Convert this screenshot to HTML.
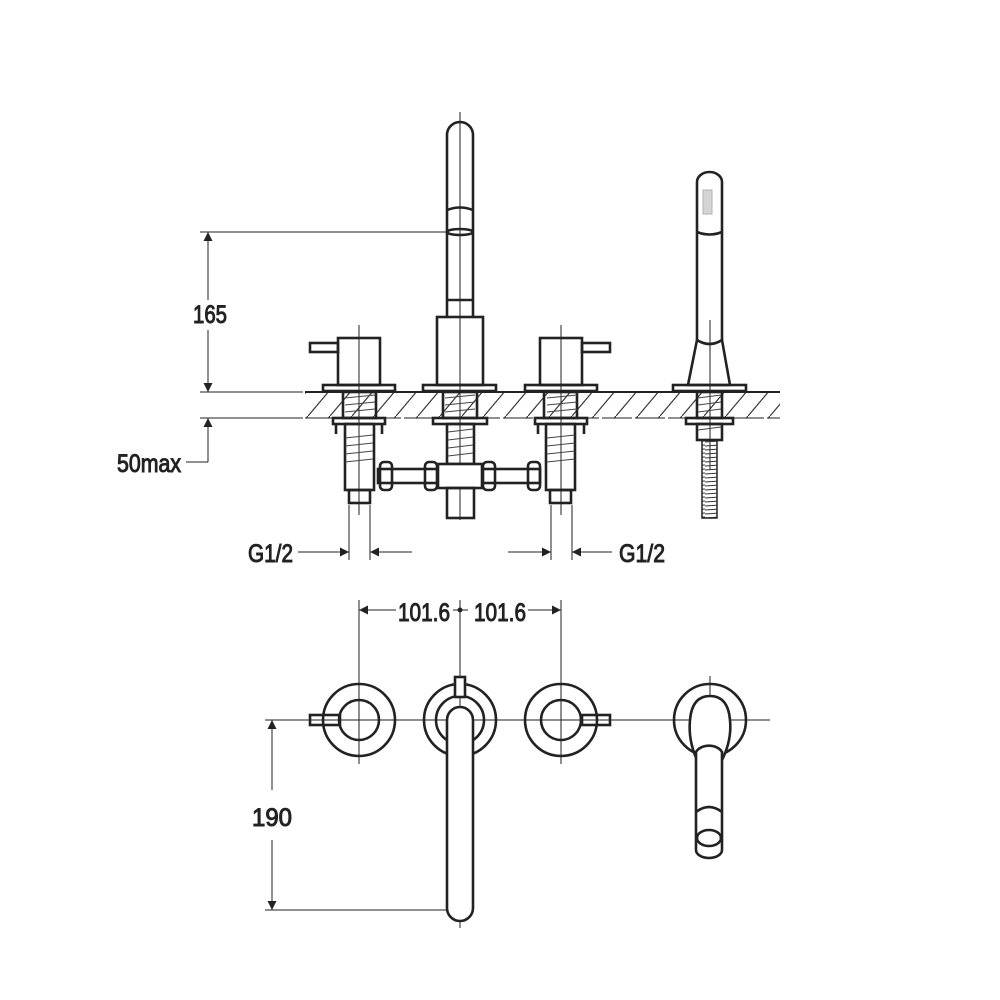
<!DOCTYPE html>
<html><head><style>html,body{margin:0;padding:0;background:#fff}svg{display:block}text{font-family:"Liberation Sans",sans-serif;font-size:25px;fill:#222}</style></head>
<body>
<svg width="1000" height="1000" viewBox="0 0 1000 1000" xmlns="http://www.w3.org/2000/svg">
<defs>
<pattern id="h" width="22" height="26" patternUnits="userSpaceOnUse">
<line x1="0" y1="26" x2="22" y2="0" stroke="#333" stroke-width="1.2"/>
</pattern>
<pattern id="hs" width="15" height="4" patternUnits="userSpaceOnUse">
<line x1="0" y1="2" x2="15" y2="1" stroke="#333" stroke-width="1"/>
</pattern>
<marker id="a" viewBox="0 0 10 10" refX="10" refY="5" markerWidth="16" markerHeight="9" markerUnits="userSpaceOnUse" orient="auto"><path d="M0,0L10,5L0,10z" fill="#222"/></marker>
</defs>
<g fill="none" stroke="#222">
<rect x="305" y="392" width="475" height="26" fill="url(#h)" stroke="none"/>
<line x1="305" y1="392" x2="780" y2="392" stroke-width="2"/>
<line x1="305" y1="418" x2="780" y2="418" stroke-width="1" stroke-dasharray="30 3"/>
<g stroke-width="1">
<line x1="200" y1="232" x2="447" y2="232"/>
<line x1="200" y1="392" x2="303" y2="392"/>
<line x1="200" y1="418" x2="303" y2="418"/>
<line x1="208" y1="300" x2="208" y2="232" marker-end="url(#a)"/>
<line x1="208" y1="330" x2="208" y2="392" marker-end="url(#a)"/>
<line x1="208" y1="462" x2="208" y2="418" marker-end="url(#a)"/>
<line x1="186" y1="462" x2="208" y2="462"/>
<line x1="349" y1="505" x2="349" y2="560"/><line x1="370" y1="505" x2="370" y2="560"/>
<line x1="298" y1="552" x2="349" y2="552" marker-end="url(#a)"/>
<line x1="412" y1="552" x2="370" y2="552" marker-end="url(#a)"/>
<line x1="551" y1="505" x2="551" y2="560"/><line x1="572" y1="505" x2="572" y2="560"/>
<line x1="508" y1="552" x2="551" y2="552" marker-end="url(#a)"/>
<line x1="612" y1="552" x2="572" y2="552" marker-end="url(#a)"/>
<line x1="359" y1="600" x2="359" y2="690"/><line x1="561" y1="600" x2="561" y2="690"/>
<line x1="460" y1="600" x2="460" y2="680"/>
<line x1="396" y1="610" x2="359" y2="610" marker-end="url(#a)"/>
<line x1="528" y1="610" x2="561" y2="610" marker-end="url(#a)"/>
<line x1="453" y1="610" x2="468" y2="610"/>
<line x1="265" y1="720" x2="770" y2="720"/>
<line x1="265" y1="910" x2="447" y2="910"/>
<line x1="272" y1="790" x2="272" y2="720" marker-end="url(#a)"/>
<line x1="272" y1="840" x2="272" y2="910" marker-end="url(#a)"/>
<line x1="359" y1="325" x2="359" y2="515"/><line x1="460" y1="112" x2="460" y2="520"/>
<line x1="561" y1="325" x2="561" y2="515"/><line x1="710" y1="320" x2="710" y2="470"/>
<line x1="359" y1="676" x2="359" y2="764"/><line x1="460" y1="664" x2="460" y2="928"/>
<line x1="561" y1="676" x2="561" y2="764"/><line x1="710" y1="676" x2="710" y2="760"/>
</g>
<g stroke-width="2.6">
<path d="M447,317V135a13,13 0 0 1 26,0V317"/>
<path d="M447,210q13,-5 26,0"/>
<ellipse cx="460" cy="232" rx="13" ry="3"/>
<line x1="447" y1="300" x2="473" y2="300"/>
<rect x="437" y="317" width="46" height="68"/>
<rect x="423" y="385" width="73" height="6"/>
<rect x="443" y="392" width="34" height="26"/>
<rect x="433" y="418" width="54" height="6"/>
<rect x="447" y="424" width="27" height="40"/>
<g id="v">
<rect x="338" y="338" width="42" height="47"/>
<rect x="310" y="343" width="28" height="9"/>
<rect x="323" y="385" width="72" height="6"/>
<rect x="343" y="392" width="33" height="26"/>
<rect x="333" y="418" width="52" height="6"/>
<path d="M336,424v10M382,424v10"/>
<rect x="345" y="424" width="29" height="66"/>
<rect x="349" y="490" width="21" height="13"/>
</g>
<use href="#v" transform="translate(920,0) scale(-1,1)"/>
<rect x="378" y="469" width="162" height="14"/>
<rect x="380" y="462" width="12" height="28" rx="4"/>
<rect x="425" y="462" width="12" height="28" rx="4"/>
<rect x="483" y="462" width="12" height="28" rx="4"/>
<rect x="528" y="462" width="12" height="28" rx="4"/>
<rect x="438" y="464" width="44" height="24" fill="#fff"/>
<rect x="447" y="488" width="27" height="30"/>
<path d="M697,340V182a12.5,10 0 0 1 25,0V340"/>
<path d="M697,232q12.5,5 25,0"/>
<path d="M697,340q12.5,8 25,0L730,385H688Z"/>
<rect x="673" y="385" width="73" height="6"/>
<rect x="697" y="392" width="25" height="26"/>
<rect x="686" y="418" width="47" height="6"/>
<rect x="697" y="424" width="25" height="16"/>
</g>
<rect x="702" y="440" width="15" height="78" fill="url(#hs)" stroke="#222" stroke-width="1.5"/>
<rect x="703" y="190" width="9" height="24" fill="#888" opacity=".35"/>
<g stroke="#444" stroke-width="1">
<path d="M345,398l30,-3M345,405l30,-3M345,412l30,-3M345,438l28,-3M345,446l28,-3M345,454l28,-3M345,462l28,-3"/>
<path d="M547,398l30,-3M547,405l30,-3M547,412l30,-3M547,438l28,-3M547,446l28,-3M547,454l28,-3M547,462l28,-3"/>
<path d="M445,398l30,-3M445,405l30,-3M445,412l30,-3M448,432l25,-3M448,440l25,-3M448,448l25,-3M448,456l25,-3"/>
<path d="M698,398l23,-3M698,405l23,-3M698,412l23,-3M698,430l23,-3"/>
</g>
<g stroke-width="2.6" fill="none" stroke="#222">
<circle cx="359" cy="720" r="36"/><circle cx="359" cy="720" r="20"/>
<rect x="310" y="715" width="30" height="10"/>
<circle cx="561" cy="720" r="36"/><circle cx="561" cy="720" r="20"/>
<rect x="582" y="715" width="28" height="10"/>
<circle cx="460" cy="720" r="36"/><circle cx="460" cy="720" r="24"/>
<rect x="455" y="677" width="10" height="20" fill="#fff"/>
<path d="M447,908V720a13,13 0 0 1 26,0V908a13,13 0 0 1 -26,0Z" fill="#fff"/>
<circle cx="710" cy="720" r="36"/>
<path d="M697,760Q688,740 690,720Q692,696 710,696Q728,696 730,720Q732,740 722,760" fill="#fff"/>
<path d="M696,850V752a14,10 0 0 1 26,0V850a13,8 0 0 1 -26,0Z" fill="#fff"/>
<path d="M696,812q13,-10 26,0"/>
<ellipse cx="709" cy="838" rx="12" ry="8"/>
</g>
<text x="193" y="323" textLength="34" lengthAdjust="spacingAndGlyphs">165</text>
<text x="117" y="472" textLength="64" lengthAdjust="spacingAndGlyphs">50max</text>
<text x="248" y="562" textLength="45" lengthAdjust="spacingAndGlyphs">G1/2</text>
<text x="619" y="562" textLength="46" lengthAdjust="spacingAndGlyphs">G1/2</text>
<text x="398" y="621" textLength="52" lengthAdjust="spacingAndGlyphs">101.6</text>
<text x="474" y="621" textLength="52" lengthAdjust="spacingAndGlyphs">101.6</text>
<text x="252" y="826" textLength="40" lengthAdjust="spacingAndGlyphs">190</text>
<circle cx="460" cy="610" r="2" fill="#222"/>
</svg>
</body></html>
